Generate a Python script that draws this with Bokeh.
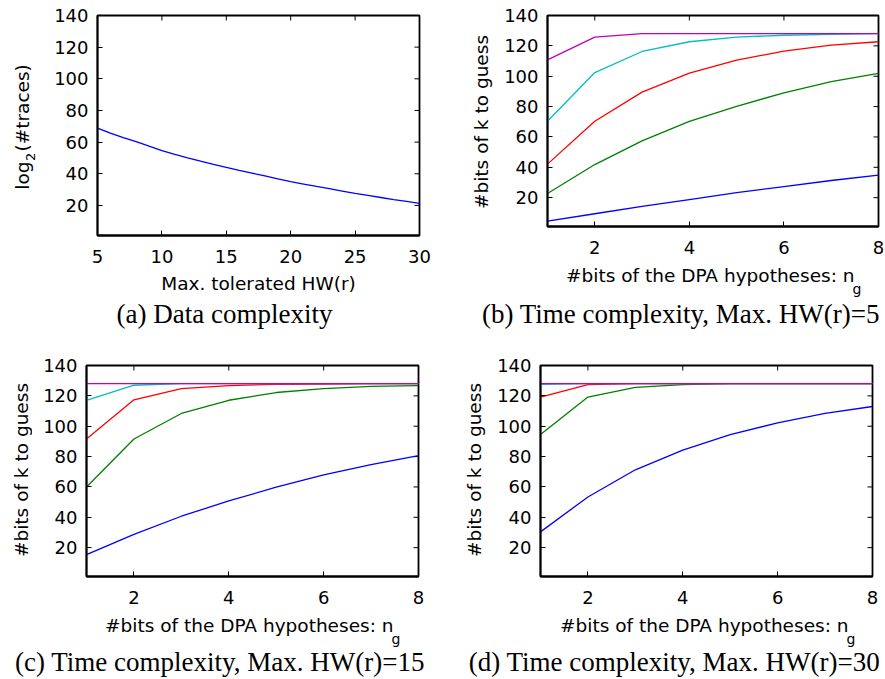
import math
from bokeh.plotting import figure
from bokeh.models import Range1d, FixedTicker, Label
from bokeh.layouts import column, row
from bokeh.embed import file_html
from bokeh.resources import INLINE

# ---------------- data ----------------
hw_a = [5, 6, 7, 8, 9, 10, 11, 12, 13, 14, 15, 16, 17, 18, 19, 20,
        21, 22, 23, 24, 25, 26, 27, 28, 29, 30]
traces_a = [68.8, 65.7, 62.9, 60.3, 57.4, 54.6, 52.3, 50.1, 48.0, 46.0,
            44.1, 42.2, 40.4, 38.6, 36.8, 35.0, 33.5, 32.0, 30.6, 29.1,
            27.6, 26.3, 25.0, 23.7, 22.5, 21.3]

ng = [1, 2, 3, 4, 5, 6, 7, 8]

b_blue = [4.5, 9.4, 14.2, 18.7, 23.3, 27.3, 31.3, 34.8]
b_green = [22.7, 41.8, 57.4, 70.3, 80.2, 89.1, 96.4, 101.9]
b_red = [42.1, 70.3, 89.5, 102.1, 110.6, 116.5, 120.5, 122.7]
b_cyan = [70.3, 102.4, 116.3, 122.7, 125.8, 127.0, 127.5, 128.0]
b_magenta = [110.8, 125.8, 128.0, 128.0, 128.0, 128.0, 128.0, 128.0]

c_blue = [15.4, 28.8, 40.7, 50.8, 59.8, 67.9, 74.7, 80.7]
c_green = [60.0, 91.6, 108.4, 117.1, 122.2, 124.8, 126.2, 126.8]
c_red = [91.6, 117.4, 124.8, 126.8, 127.5, 127.8, 128.0, 128.0]
c_cyan = [117.1, 127.0, 128.0, 128.0, 128.0, 128.0, 128.0, 128.0]
c_magenta = [128.0, 128.0, 128.0, 128.0, 128.0, 128.0, 128.0, 128.0]

d_blue = [30.4, 53.4, 71.3, 84.3, 94.5, 102.2, 108.4, 113.0]
d_green = [94.5, 119.2, 125.6, 127.4, 128.0, 128.0, 128.0, 128.0]
d_red = [119.2, 127.4, 128.0, 128.0, 128.0, 128.0, 128.0, 128.0]
d_cyan = [127.5, 128.0, 128.0, 128.0, 128.0, 128.0, 128.0, 128.0]
d_magenta = [128.0, 128.0, 128.0, 128.0, 128.0, 128.0, 128.0, 128.0]

y_range = (1, 140)
y_ticks = [20, 40, 60, 80, 100, 120, 140]
x_range_a = (5, 30)
x_ticks_a = [5, 10, 15, 20, 25, 30]
x_range_ng = (1, 8)
x_ticks_ng = [2, 4, 6, 8]

series_colors = ["#0000FF", "#008000", "#FF0000", "#00BFBF", "#BF00BF"]

captions = ["(a) Data complexity",
            "(b) Time complexity, Max. HW(r)=5",
            "(c) Time complexity, Max. HW(r)=15",
            "(d) Time complexity, Max. HW(r)=30"]
xlabel_a = "Max. tolerated HW(r)"
xlabel_ng = "#bits of the DPA hypotheses: n"
xlabel_ng_sub = "g"
ylabel_a = ["log", "2", "(#traces)"]
ylabel_ng = "#bits of k to guess"

SANS = "DejaVu Sans"
SERIF = "Liberation Serif"
TICK_FS = "18px"
LAB_PX = 18.5
SUB_PX = 14
CAP_PX = 27


def style_axis(ax, ticks):
    ax.ticker = FixedTicker(ticks=ticks)
    ax.major_tick_in = 5
    ax.major_tick_out = 0
    ax.minor_tick_in = 0
    ax.minor_tick_out = 0
    ax.major_tick_line_color = "black"
    ax.major_tick_line_width = 1
    ax.axis_line_color = "black"
    ax.axis_line_width = 1.8
    ax.major_label_text_font = SANS
    ax.major_label_text_font_size = TICK_FS
    ax.major_label_text_color = "black"


def main_fig(width, height, bl, br, bt, bb, xr, xticks):
    p = figure(width=width, height=height,
               x_range=Range1d(*xr), y_range=Range1d(*y_range),
               output_backend="svg", toolbar_location=None,
               min_border_left=bl, min_border_right=br,
               min_border_top=bt, min_border_bottom=bb)
    p.grid.visible = False
    p.outline_line_color = "black"
    p.outline_line_width = 1.8
    p.background_fill_color = "white"
    p.border_fill_color = "white"
    style_axis(p.xaxis[0], xticks)
    p.xaxis[0].major_label_standoff = 14
    style_axis(p.yaxis[0], y_ticks)
    p.yaxis[0].major_label_standoff = 9
    # inward ticks on the top and right edges of the box
    p.scatter(xticks, [y_range[1]] * len(xticks), marker="dash",
              size=10, angle=math.pi / 2, line_color="black", line_width=1)
    p.scatter([xr[1]] * len(y_ticks), y_ticks, marker="dash", size=10,
              line_color="black", line_width=1)
    return p


def text_fig(width, height):
    f = figure(width=width, height=height,
               x_range=Range1d(0, width), y_range=Range1d(0, height),
               output_backend="svg", toolbar_location=None, min_border=0,
               x_axis_location=None, y_axis_location=None)
    f.grid.visible = False
    f.outline_line_color = None
    f.background_fill_color = "white"
    f.border_fill_color = "white"
    return f


def put(f, x, y, t, px=LAB_PX, font=SANS, align="center", angle=None):
    # x, y: pixels from the helper figure's bottom-left corner; for
    # horizontal text y is the wanted baseline.
    if angle is None:
        f.add_layout(Label(x=x, y=y + 0.38 * px, x_units="screen",
                           y_units="screen", text=t, text_font=font,
                           text_font_size=f"{px}px", text_color="black",
                           text_align=align, text_baseline="alphabetic"))
    else:
        f.add_layout(Label(x=x, y=y, x_units="screen", y_units="screen",
                           text=t, text_font=font,
                           text_font_size=f"{px}px", text_color="black",
                           text_align=align, text_baseline="middle",
                           angle=angle))


V = math.pi / 2
BB = 36

# ---------------- (a) ----------------
pa = main_fig(400, 271, 57, 21, 15, BB, x_range_a, x_ticks_a)
pa.line(hw_a, traces_a, color=series_colors[0], line_width=1.3)
yl_a = text_fig(40, 271)
put(yl_a, 21.5, 110, ylabel_a[0], angle=V, align="right")
put(yl_a, 30, 110.5, ylabel_a[1], px=13, angle=V, align="left")
put(yl_a, 21.5, 120, ylabel_a[2], angle=V, align="left")
bot_a = text_fig(440, 59)
put(bot_a, 258, 40, xlabel_a)
put(bot_a, 224, 6, captions[0], px=CAP_PX, font=SERIF)
cell_a = column(row(column(yl_a), column(pa)), column(bot_a))

# ---------------- (b) ----------------
pb = main_fig(385, 262, 47, 7, 15, BB, x_range_ng, x_ticks_ng)
for ys, c in zip([b_blue, b_green, b_red, b_cyan, b_magenta], series_colors):
    pb.line(ng, ys, color=c, line_width=1.3)
yl_b = text_fig(60, 262)
put(yl_b, 41, 140.5, ylabel_ng, angle=V)
bot_b = text_fig(445, 68)
put(bot_b, 414, 48.3, xlabel_ng, align="right")
put(bot_b, 412, 36, xlabel_ng_sub, px=SUB_PX, align="left")
put(bot_b, 240.5, 6.7, captions[1], px=CAP_PX, font=SERIF)
cell_b = column(row(column(yl_b), column(pb)), column(bot_b))

# ---------------- (c) ----------------
pc = main_fig(408, 282, 54, 22, 35, BB, x_range_ng, x_ticks_ng)
for ys, c in zip([c_blue, c_green, c_red, c_cyan, c_magenta], series_colors):
    pc.line(ng, ys, color=c, line_width=1.3)
yl_c = text_fig(32, 282)
put(yl_c, 20.5, 142.5, ylabel_ng, angle=V)
bot_c = text_fig(440, 67)
put(bot_c, 393, 47.3, xlabel_ng, align="right")
put(bot_c, 391, 35.3, xlabel_ng_sub, px=SUB_PX, align="left")
put(bot_c, 219.5, 7.3, captions[2], px=CAP_PX, font=SERIF)
cell_c = column(row(column(yl_c), column(pc)), column(bot_c))

# ---------------- (d) ----------------
pd_ = main_fig(395, 282, 50, 13, 35, BB, x_range_ng, x_ticks_ng)
for ys, c in zip([d_blue, d_green, d_red, d_cyan, d_magenta], series_colors):
    pd_.line(ng, ys, color=c, line_width=1.3)
yl_d = text_fig(50, 282)
put(yl_d, 34, 142.5, ylabel_ng, angle=V)
bot_d = text_fig(445, 67)
put(bot_d, 408, 47.3, xlabel_ng, align="right")
put(bot_d, 406, 35.3, xlabel_ng_sub, px=SUB_PX, align="left")
put(bot_d, 234, 7.3, captions[3], px=CAP_PX, font=SERIF)
cell_d = column(row(column(yl_d), column(pd_)), column(bot_d))

layout = column(row(cell_a, cell_b), row(cell_c, cell_d))
open("out.html", "w").write(file_html(layout, INLINE))
